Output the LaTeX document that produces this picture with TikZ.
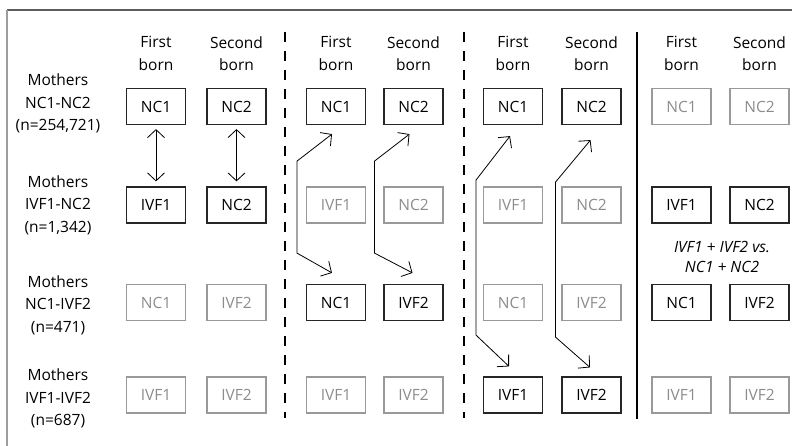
\documentclass[tikz,border=0pt]{standalone}
\usepackage{fontspec}
\setmainfont{Open Sans}
\usetikzlibrary{arrows.meta,calc}
\definecolor{framegray}{gray}{0.45}
\definecolor{dimgray}{gray}{0.6}
\definecolor{dimtext}{gray}{0.55}
\begin{document}
\begin{tikzpicture}[x=1pt,y=-1pt,
  font=\fontsize{15.5}{22.5}\selectfont,
  cell/.style={draw=black!85,line width=1.2pt,minimum width=59pt,minimum height=36pt,inner sep=0pt},
  dimcell/.style={draw=dimgray,line width=1.2pt,minimum width=59pt,minimum height=36pt,inner sep=0pt,text=dimtext},
  head/.style={align=center,inner sep=0pt},
  rowlabel/.style={align=center,inner sep=0pt},
  biarrow/.style={{Straight Barb[length=8pt,width=17pt]}-{Straight Barb[length=8pt,width=17pt]},line width=0.8pt},
  divider/.style={line width=2.4pt,dash pattern=on 10pt off 9pt},
  solidline/.style={line width=2.4pt}]
\useasboundingbox (0,0) rectangle (792,446);

% frame
\draw[framegray!80!black,line width=2pt] (7,10) -- (792,10);
\draw[framegray!70,line width=2pt] (7,10) -- (7,446);

% row labels
\node[rowlabel] (lab1) at (58,103.5) {Mothers\\NC1-NC2\\(n=254,721)};
\node[rowlabel] (lab2) at (58,205) {Mothers\\IVF1-NC2\\(n=1,342)};
\node[rowlabel] (lab3) at (58,305) {Mothers\\NC1-IVF2\\(n=471)};
\node[rowlabel] (lab4) at (58,398.5) {Mothers\\IVF1-IVF2\\(n=687)};

% column headers
\foreach \x/\t/\n in {156/First/h1,236.5/Second/h2,336/First/h3,413.5/Second/h4,513/First/h5,591.5/Second/h6,681.5/First/h7,759.5/Second/h8}
  \node[head] (\n) at (\x,53.5) {\t\\born};

% dividers
\draw[divider] (285,32) coordinate (d1a) -- (285,418) coordinate (d1b);
\draw[divider] (464,32) coordinate (d2a) -- (464,418) coordinate (d2b);
\draw[solidline] (637,32) coordinate (d3a) -- (637,419) coordinate (d3b);

% group 1: NC1-NC2 vs IVF1-NC2
\node[cell] (a11) at (156,106.5) {NC1};
\node[cell] (a12) at (236.5,106.5) {NC2};
\node[cell] (a21) at (156,205) {IVF1};
\node[cell] (a22) at (236.5,205) {NC2};
\node[dimcell] (a31) at (156,302.5) {NC1};
\node[dimcell] (a32) at (236.5,302.5) {IVF2};
\node[dimcell] (a41) at (156,395) {IVF1};
\node[dimcell] (a42) at (236.5,395) {IVF2};

% group 2: NC1-NC2 vs NC1-IVF2
\node[cell] (b11) at (336,106.5) {NC1};
\node[cell] (b12) at (413.5,106.5) {NC2};
\node[dimcell] (b21) at (336,205) {IVF1};
\node[dimcell] (b22) at (413.5,205) {NC2};
\node[cell] (b31) at (336,302.5) {NC1};
\node[cell] (b32) at (413.5,302.5) {IVF2};
\node[dimcell] (b41) at (336,395) {IVF1};
\node[dimcell] (b42) at (413.5,395) {IVF2};

% group 3: NC1-NC2 vs IVF1-IVF2
\node[cell] (c11) at (513,106.5) {NC1};
\node[cell] (c12) at (591.5,106.5) {NC2};
\node[dimcell] (c21) at (513,205) {IVF1};
\node[dimcell] (c22) at (591.5,205) {NC2};
\node[dimcell] (c31) at (513,302.5) {NC1};
\node[dimcell] (c32) at (591.5,302.5) {IVF2};
\node[cell] (c41) at (513,395) {IVF1};
\node[cell] (c42) at (591.5,395) {IVF2};

% group 4: pooled comparison
\node[dimcell] (e11) at (681.5,106.5) {NC1};
\node[dimcell] (e12) at (759.5,106.5) {NC2};
\node[cell] (e21) at (681.5,205) {IVF1};
\node[cell] (e22) at (759.5,205) {NC2};
\node[cell] (e31) at (681.5,302.5) {NC1};
\node[cell] (e32) at (759.5,302.5) {IVF2};
\node[dimcell] (e41) at (681.5,395) {IVF1};
\node[dimcell] (e42) at (759.5,395) {IVF2};
\node[align=center,inner sep=0pt,font=\fontsize{15.5}{20}\selectfont\itshape] (pool) at (722,257) {IVF1 + IVF2 vs.\\NC1 + NC2};

% connectors
\draw[biarrow] ($(a11.south)+(0,4)$) -- ($(a21.north)+(0,-5)$);
\draw[biarrow] ($(a12.south)+(0,4)$) -- ($(a22.north)+(0,-5)$);

\draw[biarrow] ($(b11.south)+(-4,9)$) -- ++(-35,27) -- ++(0,92) -- ($(b31.north)+(-4,-11)$);
\draw[biarrow] ($(b12.south)+(-4,9)$) -- ++(-35,27) -- ++(0,92) -- ($(b32.north)+(-1,-11)$);

\draw[biarrow] ($(c11.south)+(-3,11)$) -- ++(-34,44) -- ++(0,155) -- ($(c41.north)+(-4,-10)$);
\draw[biarrow] ($(c12.south)+(-1,15)$) -- ++(-35,42) -- ++(0,155) -- ($(c42.north)+(-1.5,-9)$);
\end{tikzpicture}
\end{document}
